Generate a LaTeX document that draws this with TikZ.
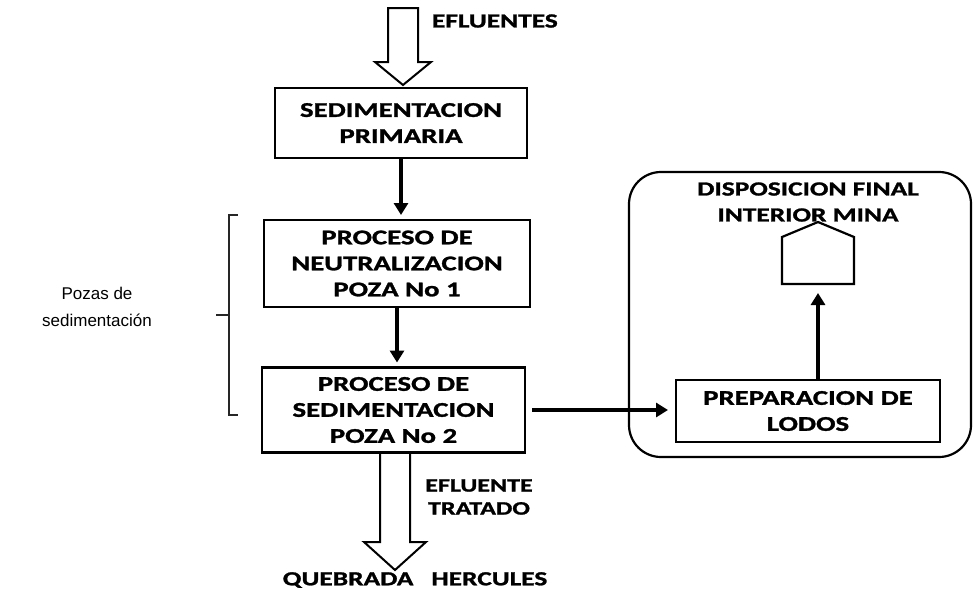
\documentclass[tikz,border=0pt]{standalone}
\usepackage{fontspec}
\setmainfont{Carlito}[FakeStretch=1.37, BoldFeatures={FakeBold=1.3}]
\newfontfamily\sansf{Liberation Sans}
\usetikzlibrary{arrows.meta}
\begin{document}
\begin{tikzpicture}[x=1pt,y=-1pt,
  every node/.style={inner sep=0pt, outer sep=0pt},
  boxlabel/.style={font=\bfseries\fontsize{21}{26}\selectfont, align=center},
  titlelabel/.style={font=\bfseries\fontsize{20}{26}\selectfont, align=center},
  smalllabel/.style={font=\bfseries\fontsize{19}{23}\selectfont, align=center},
  procbox/.style={draw, line width=2.2pt, boxlabel},
  flow/.style={line width=3.4pt, -{Triangle[length=12pt,width=14pt]}},
  hollowarrow/.style={draw, line width=2pt, line join=miter},
  bracketline/.style={line width=1.1pt, draw=black!85},
]
\useasboundingbox (0,0) rectangle (973,589);

% main column
\node[procbox, minimum width=252pt, minimum height=70pt] (b1) at (401,123) {SEDIMENTACION\\PRIMARIA};
\node[procbox, minimum width=266pt, minimum height=87pt] (b2) at (397,263.5) {PROCESO DE\\NEUTRALIZACION\\POZA No 1};
\node[procbox, minimum width=263pt, minimum height=85pt] (b3) at (393.5,410) {PROCESO DE\\SEDIMENTACION\\POZA No 2};

% right container
\node[draw, line width=2.2pt, rounded corners=32pt, minimum width=342pt, minimum height=285pt] (disp) at (800,314.5) {};
\node[titlelabel] (dtitle) at (808,202) {DISPOSICION FINAL\\INTERIOR MINA};
\draw[line width=2.2pt] (782,284) -- (782,237) -- (818,222) -- (854,237) -- (854,284) -- cycle;
\coordinate (houseb) at (818,284);
\node[procbox, minimum width=264pt, minimum height=62pt] (prep) at (808,411) {PREPARACION DE\\LODOS};

% connectors
\draw[flow, shorten >=5pt] (b1.south) -- (b1.south |- b2.north);
\draw[flow, shorten >=5pt] (b2.south) -- (b2.south |- b3.north);
\draw[flow, shorten <=7pt, shorten >=8pt] (b3.east) -- (b3.east -| prep.west);
\draw[flow, shorten >=9pt] (prep.north -| houseb) -- (houseb);

% hollow arrows
\draw[hollowarrow] (388,8) -- (388,62) -- (375,62) -- (403,85) -- (431,62) -- (418,62) -- (418,8) -- cycle;
\draw[hollowarrow] (380,452) -- (380,542) -- (364,542) -- (395,570) -- (426,542) -- (410,542) -- (410,452);

% labels
\node[titlelabel, anchor=west] (eflu) at (432,21) {EFLUENTES};
\node[smalllabel] (eftrat) at (479,497) {EFLUENTE\\TRATADO};
\node[titlelabel] (quebrada) at (415,580) {QUEBRADA\hspace{18pt}HERCULES};

% bracket
\node[font=\sansf\fontsize{17}{27}\selectfont, align=center] (pozas) at (97,307) {Pozas de\\sedimentación};
\draw[bracketline] (238,215) -- (229,215) -- (229,415) -- (238,415);
\draw[bracketline] (216,315) -- (229,315);
\end{tikzpicture}
\end{document}
